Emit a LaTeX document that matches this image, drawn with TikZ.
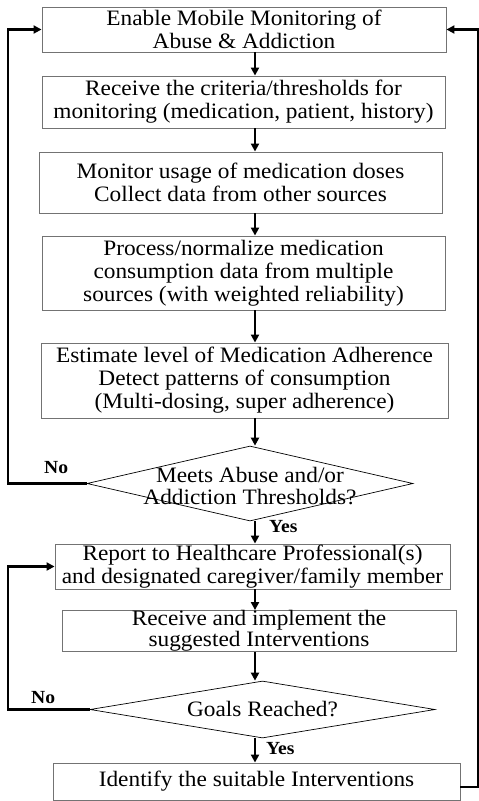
\documentclass[tikz,border=0pt]{standalone}
\usepackage{fontspec}
\setmainfont{Liberation Serif}[FakeStretch=1.06]
\usetikzlibrary{shapes.geometric,arrows.meta}
\begin{document}
\begin{tikzpicture}[x=1pt,y=-1pt,
  box/.style={draw=black!55, line width=0.9pt, rectangle, align=center, inner sep=0pt,
    font=\fontsize{22}{23}\selectfont},
  dec/.style={draw=black, line width=0.7pt, diamond, inner sep=0pt},
  dtext/.style={align=center, inner sep=0pt, font=\fontsize{22}{22}\selectfont},
  arr/.style={line width=2pt, -{Triangle[length=8pt,width=8pt]}},
  back/.style={line width=2.4pt, -{Triangle[length=8pt,width=8pt]}},
  lab/.style={inner sep=0pt, anchor=base west, font=\fontsize{18.5}{20}\bfseries\selectfont}]
\useasboundingbox (0,0) rectangle (479,801);
\coordinate (sp) at (255,0);
\coordinate (L) at (8,0);
\coordinate (R) at (478.5,0);

\node[box, minimum width=404, minimum height=45] (b1) at (244,29.5)
  {Enable Mobile Monitoring of\\Abuse \& Addiction};
\node[box, minimum width=403, minimum height=52] (b2) at (243.5,102)
  {Receive the criteria/thresholds for\\monitoring (medication, patient, history)};
\node[box, minimum width=403, minimum height=61] (b3) at (240.5,182.5)
  {Monitor usage of medication doses\\Collect data from other sources};
\node[box, minimum width=403, minimum height=74] (b4) at (243.5,273)
  {Process/normalize medication\\consumption data from multiple\\sources (with weighted reliability)};
\node[box, minimum width=407, minimum height=75] (b5) at (244.5,380.5)
  {Estimate level of Medication Adherence\\Detect patterns of consumption\\(Multi-dosing, super adherence)};
\node[dec, minimum width=326, minimum height=75] (d1) at (250,483.5) {};
\node[dtext] (t1) at (250,486) {Meets Abuse and/or\\Addiction Thresholds?};
\node[box, minimum width=395, minimum height=45] (b6) at (252.5,566.5)
  {Report to Healthcare Professional(s)\\and designated caregiver/family member};
\node[box, minimum width=394, minimum height=36, font=\fontsize{22}{18}\selectfont] (b7) at (259,631)
  {Receive and implement the\\suggested Interventions};
\node[dec, minimum width=345, minimum height=57] (d2) at (262.5,709.5) {};
\node[dtext] (t2) at (262.5,709) {Goals Reached?};
\node[box, minimum width=407, minimum height=37] (b8) at (256.5,781.5)
  {Identify the suitable Interventions};

\node[lab] (no1) at (44,473) {No};
\node[lab] (yes1) at (269,532) {Yes};
\node[lab] (no2) at (31,703) {No};
\node[lab] (yes2) at (266,754) {Yes};

\draw[arr] (b1.south -| sp) -- (b2.north -| sp);
\draw[arr] (b2.south -| sp) -- (b3.north -| sp);
\draw[arr] (b3.south -| sp) -- (b4.north -| sp);
\draw[arr] (b4.south -| sp) -- (b5.north -| sp);
\draw[arr] (b5.south -| sp) -- (d1.north -| sp);
\draw[arr] (d1.south -| sp) -- (b6.north -| sp);
\draw[arr] (b6.south -| sp) -- (b7.north -| sp);
\draw[arr] (b7.south -| sp) -- (d2.north -| sp);
\draw[arr] (d2.south -| sp) -- (b8.north -| sp);

\draw[back] (d1.west) -- (d1.west -| L) -- (b1.west -| L) -- (b1.west);
\draw[back] (d2.west) -- (d2.west -| L) -- (b6.west -| L) -- (b6.west);
\draw[back] ([yshift=-5.5pt]b8.east) -- ([yshift=-5.5pt]b8.east -| R) -- (b1.east -| R) -- (b1.east);
\end{tikzpicture}
\end{document}
